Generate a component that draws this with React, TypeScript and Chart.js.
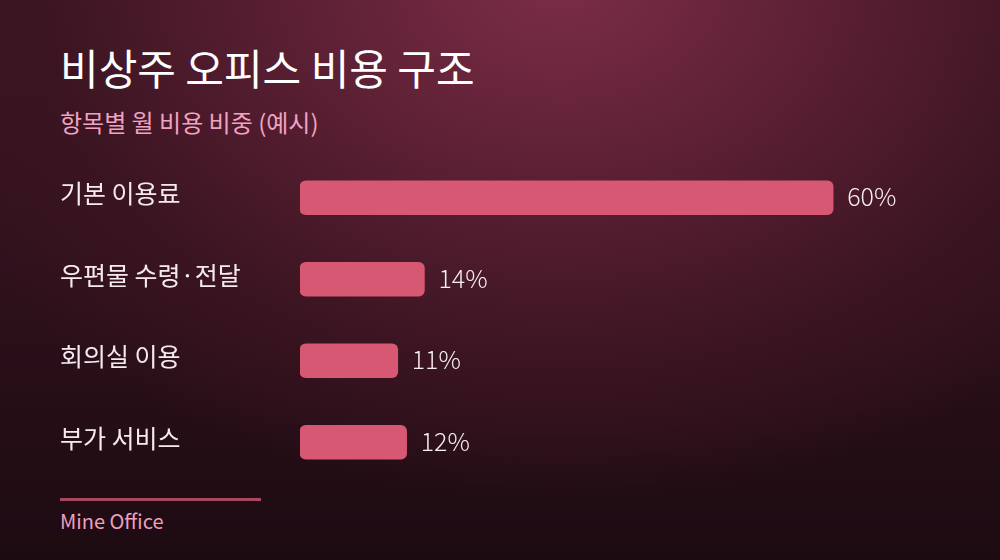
import { useEffect, useRef } from "react";
import { Chart, registerables } from "chart.js";

Chart.register(...registerables);

const categories = ["기본 이용료", "우편물 수령·전달", "회의실 이용", "부가 서비스"];
const shares = [60, 14, 11, 12];

const KR_FONT = "'Noto Sans CJK KR', 'Noto Sans', sans-serif";

// draws the "60%" labels just past the end of each bar
const valueLabels = {
  id: "valueLabels",
  afterDatasetsDraw(chart: any) {
    const { ctx } = chart;
    const meta = chart.getDatasetMeta(0);
    ctx.save();
    ctx.font = `300 25px ${KR_FONT}`;
    ctx.fillStyle = "#f6eef2";
    ctx.textAlign = "left";
    ctx.textBaseline = "middle";
    meta.data.forEach((bar: any, i: number) => {
      ctx.fillText(`${shares[i]}%`, bar.x + 14, bar.y - 1);
    });
    ctx.restore();
  },
};

export default function App() {
  const chartRef = useRef<HTMLCanvasElement>(null);
  const chartInstance = useRef<Chart | null>(null);

  useEffect(() => {
    if (!chartRef.current) return;
    if (chartInstance.current) chartInstance.current.destroy();

    chartInstance.current = new Chart(chartRef.current, {
      type: "bar",
      data: {
        labels: categories,
        datasets: [
          {
            data: shares,
            backgroundColor: "#d65872",
            borderRadius: 6,
            borderSkipped: false,
            barThickness: 34,
          },
        ],
      },
      options: {
        indexAxis: "y",
        responsive: true,
        maintainAspectRatio: false,
        animation: false,
        layout: { padding: { left: 60, right: 78, top: 0, bottom: 0 } },
        plugins: {
          legend: { display: false },
          tooltip: { enabled: false },
        },
        scales: {
          x: {
            min: 0,
            max: 70,
            display: false,
          },
          y: {
            grid: { display: false },
            border: { display: false },
            ticks: {
              color: "#f5eaef",
              font: { family: KR_FONT, size: 25 },
              crossAlign: "far",
              padding: 0,
              labelOffset: -4,
            },
            afterFit(scale: any) {
              scale.width = 240;
            },
          },
        },
      },
      plugins: [valueLabels],
    });

    return () => {
      if (chartInstance.current) {
        chartInstance.current.destroy();
        chartInstance.current = null;
      }
    };
  }, []);

  return (
    <div
      style={{
        position: "absolute",
        left: 0,
        top: 0,
        width: 1000,
        height: 560,
        overflow: "hidden",
        fontFamily: KR_FONT,
        background:
          "radial-gradient(ellipse 700px 520px at 560px -20px, #7c2d48 0%, #5a1f33 40%, #3a1421 75%, rgba(31,12,20,0) 100%), linear-gradient(180deg, #3e1624 0%, #2a0f19 60%, #1d0b12 100%)",
      }}
    >
      <div
        style={{
          position: "absolute",
          left: 60,
          top: 38,
          fontSize: 42,
          color: "#ffffff",
          lineHeight: "58px",
        }}
      >
        비상주 오피스 비용 구조
      </div>
      <div
        style={{
          position: "absolute",
          left: 60,
          top: 106,
          fontSize: 24,
          color: "#f0a3c2",
          lineHeight: "32px",
        }}
      >
        항목별 월 비용 비중 (예시)
      </div>
      <div
        style={{
          position: "absolute",
          left: 0,
          top: 142,
          width: 1000,
          height: 356,
        }}
      >
        <canvas ref={chartRef}></canvas>
      </div>
      <div
        style={{
          position: "absolute",
          left: 60,
          top: 498,
          width: 201,
          height: 3,
          background: "#a8485f",
        }}
      />
      <div
        style={{
          position: "absolute",
          left: 60,
          top: 507,
          fontSize: 20,
          color: "#ee9fbd",
          lineHeight: "28px",
        }}
      >
        Mine Office
      </div>
    </div>
  );
}
